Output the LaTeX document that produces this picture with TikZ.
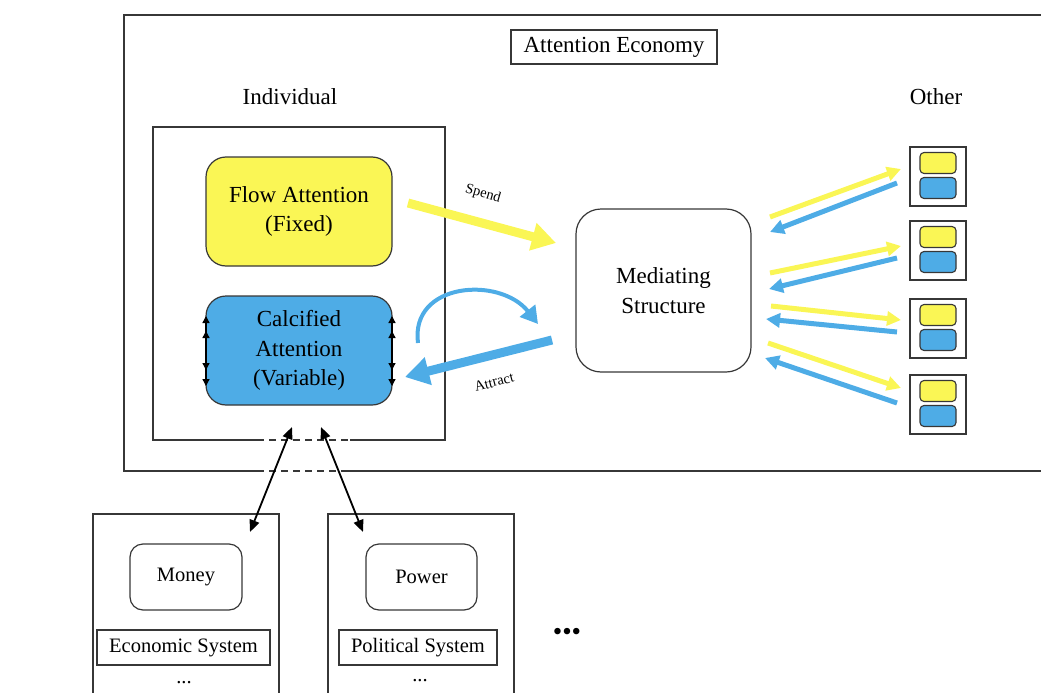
\documentclass[tikz,border=0pt]{standalone}
\usepackage{fontspec}
\setmainfont{Liberation Serif}
\usetikzlibrary{arrows.meta}
\definecolor{ayellow}{RGB}{250,246,85}
\definecolor{ablue}{RGB}{78,172,230}
\definecolor{edge}{RGB}{55,55,55}
\begin{document}
\begin{tikzpicture}[x=1pt,y=-1pt,
  frame/.style={draw=edge,line width=1.3pt},
  gap/.style={draw=edge,line width=1.3pt,dash pattern=on 7pt off 5pt},
  bigtext/.style={font=\fontsize{23}{29.5}\selectfont},
  midtext/.style={font=\fontsize{20.5}{25}\selectfont},
  smalltext/.style={font=\fontsize{14.5}{17}\selectfont},
  rbox/.style={draw=edge,line width=1.2pt,rounded corners=20pt,align=center,inner sep=0pt},
  sbox/.style={draw=edge,line width=1.2pt,align=center,inner sep=0pt},
  mini/.style={draw=edge,line width=1.1pt,rounded corners=4pt,minimum width=36pt,minimum height=21pt,inner sep=0pt},
  yarrow/.style={draw=ayellow,line width=5pt,-{Triangle[length=14pt,width=14pt]}},
  barrow/.style={draw=ablue,line width=5pt,-{Triangle[length=14pt,width=14pt]}},
  tick/.style={draw=black,line width=1.3pt,-{Triangle[length=7pt,width=7pt]}},
  link/.style={draw=black,line width=1.8pt,{Triangle[length=12pt,width=10pt]}-{Triangle[length=12pt,width=10pt]}}
]
\useasboundingbox (0,0) rectangle (1041,693);
\clip (0,0) rectangle (1041,693);

% outer frame (Attention Economy)
\draw[frame] (1100,15) -- (124,15) -- (124,471) -- (257,471);
\draw[gap] (257,471) -- (343,471);
\draw[frame] (343,471) -- (1100,471);
\node[sbox,bigtext,minimum width=206pt,minimum height=34pt] (ae) at (614,47) {Attention Economy};

\node[bigtext] (indlab) at (290,97) {Individual};
\node[bigtext] (othlab) at (936,97) {Other};

% individual frame
\draw[frame] (257,440) -- (153,440) -- (153,127) -- (445,127) -- (445,440) -- (350,440);
\draw[gap] (257,440) -- (350,440);

\node[rbox,bigtext,fill=ayellow,minimum width=186pt,minimum height=109pt] (flow) at (299,211.5) {Flow Attention\\(Fixed)};
\node[rbox,bigtext,fill=ablue,minimum width=186pt,minimum height=109pt] (calc) at (299,350.5) {Calcified\\Attention\\(Variable)};

% small arrows on the sides of calcified attention
\foreach \xx in {206,392}{
  \draw[tick] (\xx,350) -- (\xx,316);
  \draw[tick] (\xx,350) -- (\xx,331);
  \draw[tick] (\xx,350) -- (\xx,386);
  \draw[tick] (\xx,350) -- (\xx,370);
}

\node[rbox,bigtext,rounded corners=25pt,minimum width=175pt,minimum height=163pt] (med) at (663.5,290.5) {Mediating\\Structure};

% spend / attract
\coordinate (sp1) at (408,203);
\coordinate (sp2) at (556,243);
\draw[draw=ayellow,line width=9pt,-{Triangle[length=24pt,width=27pt]}] (sp1) -- (sp2);
\node[smalltext,rotate=-16] (spend) at (483,194) {Spend};
\coordinate (at1) at (552,340);
\coordinate (at2) at (405,377);
\draw[draw=ablue,line width=9pt,-{Triangle[length=24pt,width=27pt]}] (at1) -- (at2);
\node[smalltext,rotate=15] (attract) at (494,382) {Attract};
\coordinate (cu1) at (418,343);
\coordinate (cu2) at (538,324);
\draw[draw=ablue,line width=4pt,-{Triangle[length=17pt,width=19pt]}] (cu1) .. controls (410,282) and (500,276) .. (cu2);

% others
\foreach \t [count=\i] in {147,221,299,375}{
  \node[sbox,minimum width=56pt,minimum height=59pt] (o\i) at (938,\t+29.5) {};
  \node[mini,fill=ayellow] (oy\i) at (938,\t+16) {};
  \node[mini,fill=ablue] (ob\i) at (938,\t+41) {};
}
% right arrows
\foreach \ya/\yb/\ba/\bb/\xa/\xb [count=\i] in
  {217/169/183/232/770/770, 273/246/258/289/770/769, 306/320/332/319/771/766, 343/388/403/358/768/765}{
  \coordinate (ys\i) at (\xa,\ya);
  \coordinate (ye\i) at (901,\yb);
  \coordinate (bs\i) at (897,\ba);
  \coordinate (be\i) at (\xb,\bb);
  \draw[yarrow] (ys\i) -- (ye\i);
  \draw[barrow] (bs\i) -- (be\i);
}

% lower systems
\draw[frame] (93,700) -- (93,514) -- (279,514) -- (279,700);
\draw[frame] (328,700) -- (328,514) -- (514,514) -- (514,700);
\node[rbox,midtext,rounded corners=13pt,minimum width=112pt,minimum height=66pt] (money) at (186,577) {\raisebox{-2pt}{Money}};
\node[rbox,midtext,rounded corners=13pt,minimum width=111pt,minimum height=66pt] (power) at (421.5,577) {Power};
\node[sbox,midtext,minimum width=173pt,minimum height=35pt] (eco) at (183.5,647.5) {Economic System};
\node[sbox,midtext,minimum width=158pt,minimum height=35pt] (pol) at (418,647.5) {Political System};
\node[midtext] (dots1) at (184,683) {...};
\node[midtext] (dots2) at (420,681) {...};
\node[font=\fontsize{27}{30}\selectfont] (more) at (567,634) {•••};

% links
\coordinate (l1a) at (292,427);
\coordinate (l1b) at (250,532);
\coordinate (l2a) at (321,427);
\coordinate (l2b) at (363,532);
\draw[link] (l1a) -- (l1b);
\draw[link] (l2a) -- (l2b);
\end{tikzpicture}
\end{document}
